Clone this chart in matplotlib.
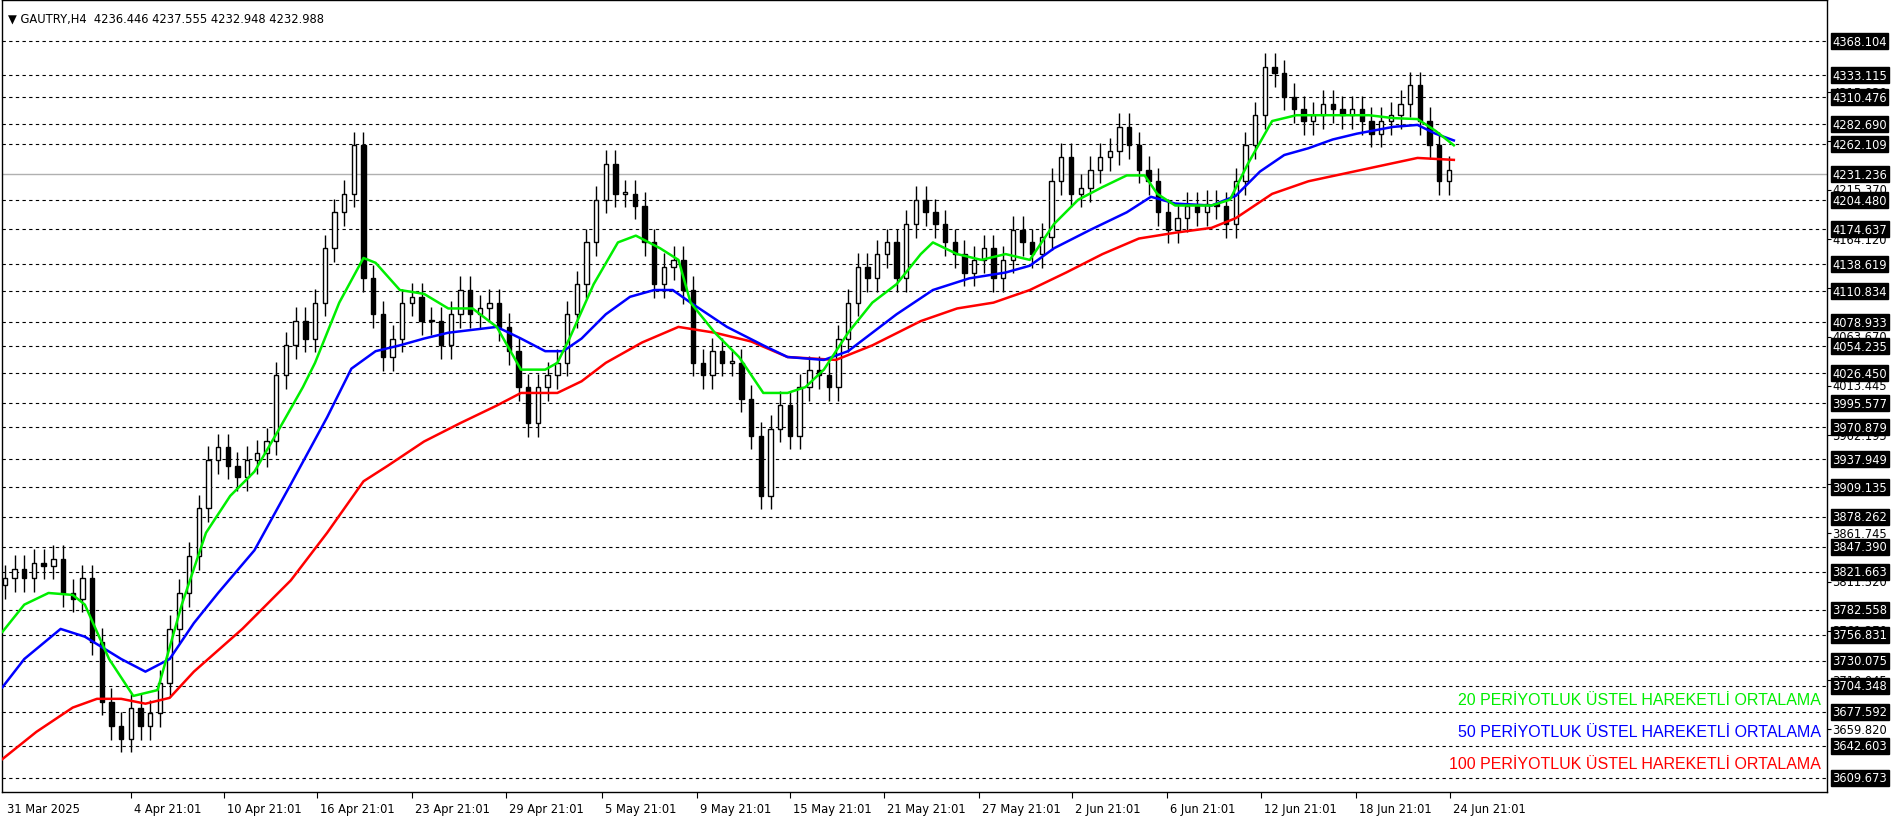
import matplotlib
matplotlib.use("Agg")
import matplotlib.pyplot as plt
import matplotlib.transforms as mtransforms
import numpy as np

closes = [3815,3825,3815,3831,3828,3835,3800,3794,3815,3750,3688,3663,3650,3682,3663,3676,3707,3763,3800,3838,
          3887,3937,3950,3931,3919,3937,3944,3956,4024,4055,4080,4062,4099,4155,4192,4211,4261,4124,4087,4043,
          4062,4099,4105,4080,4080,4055,4087,4112,4087,4093,4099,4074,4049,4012,3975,4012,4024,4037,4087,4118,
          4161,4205,4242,4211,4211,4199,4161,4118,4136,4143,4112,4037,4024,4049,4037,4037,4000,3962,3900,3969,
          3994,3962,4012,4030,4024,4012,4062,4099,4136,4124,4149,4161,4124,4180,4205,4192,4180,4161,4149,4130,
          4143,4155,4124,4143,4174,4161,4149,4167,4224,4249,4211,4217,4236,4249,4255,4280,4261,4236,4224,4192,
          4174,4186,4199,4192,4201,4199,4180,4224,4261,4292,4342,4335,4311,4298,4286,4292,4304,4298,4292,4298,
          4286,4273,4286,4292,4304,4323,4286,4261,4224,4236]
first_open = 3808

ema20_t = [-0.25,2,4.5,7,8.25,10.75,13.25,15.75,18.25,20.75,23.25,25.75,28.25,30.75,32,34.5,37,38.25,40.75,43.25,45.75,
           48.25,50.75,53.25,55.75,57,58.25,60.75,63.25,65.1,67.6,69.5,70.75,73.25,75.75,78.25,80.75,82.6,84.5,87,
           89.5,92,94.5,95.75,98.25,100.75,103.25,105.75,108.25,110.75,113.25,115.75,117.6,118.9,120.75,124.5,
           126.4,128.25,130.75,133.25,135.75,138.25,140.75,143.25,145.75,147.6,149.5]
ema20_v = [3760,3788,3800,3798,3788,3732,3694,3700,3788,3862,3900,3925,3968,4012,4037,4099,4145,4140,4112,4108,4093,
           4093,4074,4030,4030,4037,4062,4118,4161,4168,4155,4143,4099,4068,4043,4006,4006,4012,4030,4068,
           4099,4118,4149,4161,4149,4143,4149,4143,4180,4205,4218,4230,4230,4211,4199,4199,4205,4242,4286,4292,
           4292,4292,4292,4289,4288,4276,4261]
ema50_t = [-0.25,2,5.75,8.25,12,14.5,17,19.5,22,25.75,29.5,33.25,35.75,38.25,40.75,43.25,45.75,48.25,50.75,53.25,
           55.75,57.6,59.5,62,64.5,67,68.9,70.75,74.5,78.25,80.75,84.5,87,89.5,92,95.75,99.5,103.25,105.75,108.25,
           112,115.75,118.25,120.75,124.5,127,129.5,132,134.5,137,139.5,143.25,145.75,147.6,149.5]
ema50_v = [3703,3732,3763,3755,3732,3719,3732,3769,3800,3844,3912,3981,4031,4049,4055,4062,4068,4071,4074,4062,
           4049,4049,4062,4087,4105,4112,4112,4099,4074,4055,4043,4040,4049,4068,4087,4112,4124,4130,4137,4155,
           4174,4192,4208,4201,4199,4209,4234,4251,4258,4267,4273,4280,4282,4273,4266]
ema100_t = [-0.25,3.25,7,9.5,12,14.5,17,19.5,24.5,29.5,33.25,37,39.5,43.25,47,50.75,53.25,57,59.5,62,65.75,69.5,
            73.25,77,80.75,85.75,89.5,94.5,98.25,102,105.75,109.5,113.25,117,120.75,124.5,127,130.75,134.5,138.25,
            142,145.75,147.6,149.5]
ema100_v = [3629,3657,3682,3691,3691,3686,3692,3719,3763,3813,3862,3915,3931,3956,3975,3993,4006,4006,4018,4037,
            4058,4074,4068,4059,4043,4040,4055,4080,4093,4099,4112,4130,4149,4165,4171,4176,4186,4211,4224,4232,
            4240,4248,4247,4246]

level_labels = [4368.104,4333.115,4310.476,4282.690,4262.109,4231.236,4204.480,4174.637,4138.619,4110.834,
                4078.933,4054.235,4026.450,3995.577,3970.879,3937.949,3909.135,3878.262,3847.390,3821.663,
                3782.558,3756.831,3730.075,3704.348,3677.592,3642.603,3609.673]
scale_ticks = [4315.830,4265.595,4215.370,4164.120,4113.895,4063.670,4013.445,3962.195,3911.970,3861.745,
               3811.520,3761.270,3710.045,3659.820]
bid_level = 4231.236
date_labels = ["31 Mar 2025","4 Apr 21:01","10 Apr 21:01","16 Apr 21:01","23 Apr 21:01","29 Apr 21:01",
               "5 May 21:01","9 May 21:01","15 May 21:01","21 May 21:01","27 May 21:01","2 Jun 21:01",
               "6 Jun 21:01","12 Jun 21:01","18 Jun 21:01","24 Jun 21:01"]
date_pos = [-0.1,13,22.6,32.25,42,51.75,61.6,71.4,81,90.75,100.5,110.1,119.9,129.6,139.4,149.1]
legend_texts = ["20 PERİYOTLUK ÜSTEL HAREKETLİ ORTALAMA","50 PERİYOTLUK ÜSTEL HAREKETLİ ORTALAMA",
                "100 PERİYOTLUK ÜSTEL HAREKETLİ ORTALAMA"]
legend_colors = ["#00ee00","#0000ff","#ff0000"]
title = "GAUTRY,H4  4236.446 4237.555 4232.948 4232.988"

fig = plt.figure(figsize=(18.96,8.2), dpi=100)
ax = fig.add_axes([0.0013,0.0325,0.9623,0.966])
ax.set_xlim(-0.25,188)
ax.set_ylim(3594.7,4410.4)

c = np.array(closes, float)
o = np.concatenate([[first_open], c[:-1]])
idx = np.arange(len(c))
hi = np.maximum(o,c) + 14
lo = np.minimum(o,c) - 14
ax.vlines(idx, lo, hi, color="black", lw=1, zorder=3)
up = c >= o
bot = np.minimum(o,c); h = np.maximum(np.abs(c-o), 1.5)
ax.bar(idx[up], h[up], bottom=bot[up], width=0.45, facecolor="white", edgecolor="black", lw=1, zorder=4)
ax.bar(idx[~up], h[~up], bottom=bot[~up], width=0.45, facecolor="black", edgecolor="black", lw=1, zorder=4)

ax.plot(ema100_t, ema100_v, color="#ff0000", lw=1.8, zorder=5)
ax.plot(ema50_t, ema50_v, color="#0000ff", lw=1.8, zorder=5)
ax.plot(ema20_t, ema20_v, color="#00ee00", lw=1.8, zorder=5)

for lv in level_labels:
    if lv == bid_level:
        ax.axhline(lv, color="#b0b0b0", lw=1, zorder=1)
    else:
        ax.axhline(lv, color="black", lw=0.8, ls=(0,(3,3)), zorder=1)

tr = mtransforms.blended_transform_factory(ax.transAxes, ax.transData)
for t in scale_ticks:
    ax.text(1.003, t, f"{t:.3f}", transform=tr, fontsize=8.3, va="center", ha="left", color="black", clip_on=False)
for lv in level_labels:
    ax.text(1.003, lv, f"{lv:.3f}", transform=tr, fontsize=8.3, va="center", ha="left", color="white",
            clip_on=False, bbox=dict(boxstyle="square,pad=0.12", fc="black", ec="black"))

ax.yaxis.tick_right()
ax.set_yticks(scale_ticks)
ax.set_yticklabels([])
ax.tick_params(axis="y", length=3, direction="out")
ax.set_xticks(date_pos[1:])
ax.set_xticklabels([])
ax.tick_params(axis="x", length=4, direction="out")
for p, lab in zip(date_pos, date_labels):
    ax.text(p + 0.3, -0.012, lab, transform=mtransforms.blended_transform_factory(ax.transData, ax.transAxes),
            fontsize=8.3, ha="left", va="top", clip_on=False)

ax.text(0.003, 0.986, "▼ " + title, transform=ax.transAxes, fontsize=8.3, ha="left", va="top")
for i, (t, col) in enumerate(zip(legend_texts, legend_colors)):
    ax.text(0.9965, 0.117 - i*0.04, t, transform=ax.transAxes, fontsize=11.5, color=col, ha="right", va="center",
            family=["Liberation Sans", "DejaVu Sans"])

for s in ax.spines.values():
    s.set_linewidth(1)
fig.savefig("out.png", dpi=100, facecolor="white")
